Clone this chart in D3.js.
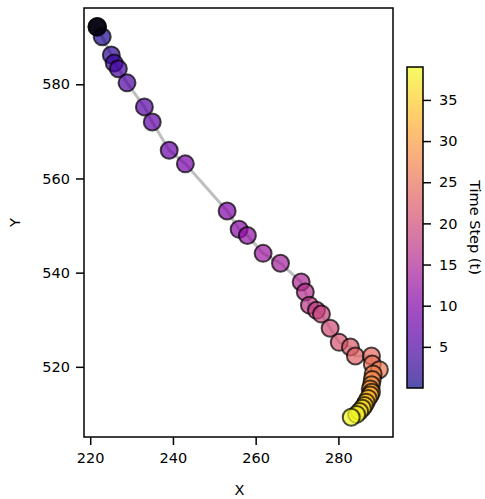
<!DOCTYPE html>
<html>
<head>
<meta charset="utf-8">
<script src="https://cdn.jsdelivr.net/npm/d3@7"></script>
<style>
  html, body { margin: 0; padding: 0; background: #fff; }
  svg text { font-family: "DejaVu Sans", sans-serif; }
</style>
</head>
<body>
<svg id="chart" width="485" height="499"></svg>
<script>
// Data: trajectory points (t = 0..39)
const timeSteps = d3.range(0, 40);
const xValues = [221.7, 222.9, 225.1, 225.8, 226.8, 228.9, 233.1, 235.0, 239.1, 243.0,
                 253.1, 256.0, 258.0, 261.8, 266.0, 271.0, 272.0, 273.0, 274.7, 275.9,
                 278.0, 280.2, 282.9, 284.1, 288.0, 288.2, 289.9, 288.4, 288.2, 288.0,
                 287.7, 288.0, 287.7, 287.2, 286.7, 286.3, 285.8, 285.1, 284.4, 283.1];
const yValues = [592.2, 590.1, 586.2, 584.5, 583.3, 580.3, 575.2, 572.0, 566.0, 563.1,
                 553.1, 549.2, 547.9, 544.1, 542.0, 538.0, 535.9, 533.1, 532.0, 531.2,
                 528.2, 525.2, 524.2, 522.3, 522.3, 520.6, 519.4, 518.5, 517.3, 516.2,
                 515.3, 514.6, 514.0, 513.3, 512.5, 511.8, 511.2, 510.5, 509.9, 509.3];
const xTicks = [220, 240, 260, 280];
const yTicks = [520, 540, 560, 580];
const cbTicks = [5, 10, 15, 20, 25, 30, 35];

const points = timeSteps.map((t, i) => ({ t, x: xValues[i], y: yValues[i] }));

const svg = d3.select("#chart");
const L = 84, R = 393, T = 8, B = 437;
const x = d3.scaleLinear().domain([218.5, 293.2]).range([L, R]);
const y = d3.scaleLinear().domain([505.1, 596.2]).range([B, T]);
const cmin = 0, cmax = 39;
const color = d3.scaleSequential(d3.interpolatePlasma).domain([cmin, cmax]);

// Path line
svg.append("path")
  .datum(points)
  .attr("fill", "none")
  .attr("stroke", "gray")
  .attr("stroke-opacity", 0.5)
  .attr("stroke-width", 3)
  .attr("d", d3.line().x(d => x(d.x)).y(d => y(d.y)));

// Points
svg.append("g").selectAll("circle")
  .data(points)
  .join("circle")
  .attr("cx", d => x(d.x))
  .attr("cy", d => y(d.y))
  .attr("r", 8.5)
  .attr("fill", d => color(d.t))
  .attr("fill-opacity", 0.7)
  .attr("stroke", "black")
  .attr("stroke-opacity", 0.7)
  .attr("stroke-width", 2);

// Start marker
svg.append("circle")
  .attr("cx", x(points[0].x))
  .attr("cy", y(points[0].y))
  .attr("r", 9.8)
  .attr("fill", "black")
  .attr("fill-opacity", 0.85);

// Axes
const fs = 14.5;
const xAxis = svg.append("g").attr("transform", `translate(0,${B})`)
  .call(d3.axisBottom(x).tickValues(xTicks).tickSize(8).tickPadding(8).tickFormat(d3.format("d")));
const yAxis = svg.append("g").attr("transform", `translate(${L},0)`)
  .call(d3.axisLeft(y).tickValues(yTicks).tickSize(8).tickPadding(6).tickFormat(d3.format("d")));
[xAxis, yAxis].forEach(a => {
  a.select(".domain").remove();
  a.selectAll(".tick line").attr("stroke", "black").attr("stroke-width", 1.5);
  a.selectAll(".tick text").attr("font-size", fs).attr("fill", "black")
    .attr("font-family", "DejaVu Sans");
});

// Frame
svg.append("rect")
  .attr("x", L).attr("y", T).attr("width", R - L).attr("height", B - T)
  .attr("fill", "none").attr("stroke", "black").attr("stroke-width", 1.5);

// Axis labels
svg.append("text").attr("x", (L + R) / 2 + 1).attr("y", 495)
  .attr("text-anchor", "middle").attr("font-size", fs).text("X");
svg.append("text").attr("transform", `translate(20,${(T + B) / 2}) rotate(-90)`)
  .attr("text-anchor", "middle").attr("font-size", fs).text("Y");

// Colorbar
const cbL = 407, cbR = 423, cbT = 67, cbB = 388;
const cy = d3.scaleLinear().domain([cmin, cmax]).range([cbB, cbT]);
const defs = svg.append("defs");
const grad = defs.append("linearGradient").attr("id", "cbgrad")
  .attr("x1", 0).attr("y1", 1).attr("x2", 0).attr("y2", 0);
d3.range(0, 1.0001, 0.05).forEach(s => {
  grad.append("stop").attr("offset", s).attr("stop-color", d3.interpolatePlasma(s));
});
svg.append("rect").attr("x", cbL).attr("y", cbT).attr("width", cbR - cbL).attr("height", cbB - cbT)
  .attr("fill", "url(#cbgrad)").attr("fill-opacity", 0.7);
svg.append("rect").attr("x", cbL).attr("y", cbT).attr("width", cbR - cbL).attr("height", cbB - cbT)
  .attr("fill", "none").attr("stroke", "black").attr("stroke-width", 1.5);
const cbAxis = svg.append("g").attr("transform", `translate(${cbR},0)`)
  .call(d3.axisRight(cy).tickValues(cbTicks).tickSize(8).tickPadding(8).tickFormat(d3.format("d")));
cbAxis.select(".domain").remove();
cbAxis.selectAll(".tick line").attr("stroke", "black").attr("stroke-width", 1.5);
cbAxis.selectAll(".tick text").attr("font-size", fs).attr("fill", "black").attr("font-family", "DejaVu Sans");
svg.append("text").attr("transform", `translate(470,${(cbT + cbB) / 2}) rotate(90)`)
  .attr("text-anchor", "middle").attr("font-size", fs).text("Time Step (t)");
</script>
</body>
</html>
